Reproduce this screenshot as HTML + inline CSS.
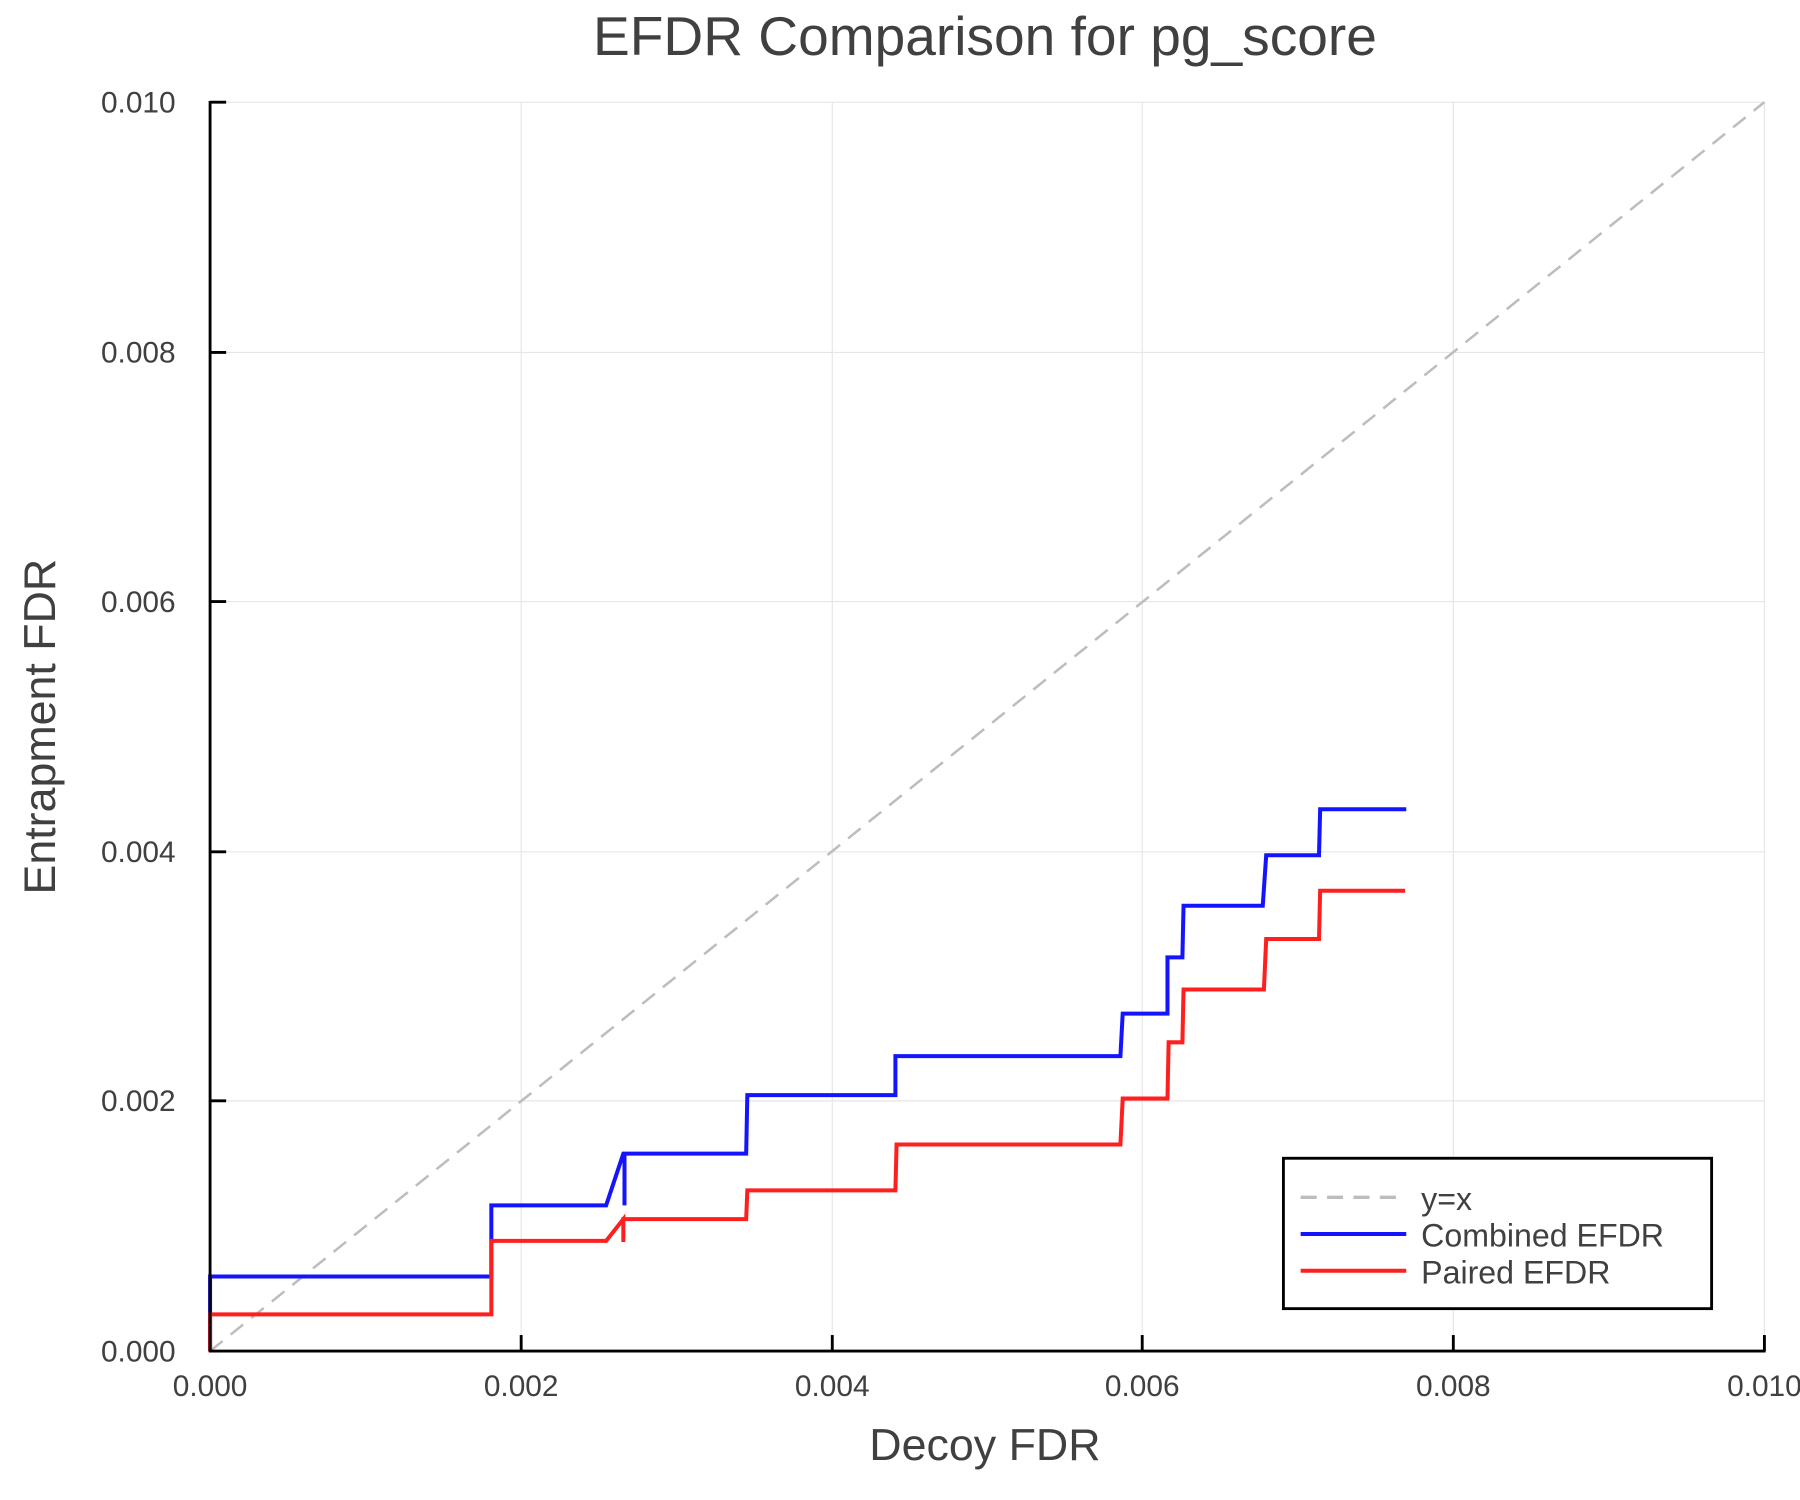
<!DOCTYPE html>
<html><head><style>html,body{margin:0;padding:0;background:#fff}svg{display:block}</style></head>
<body>
<svg width="1800" height="1500" viewBox="0 0 1568 1306.7" preserveAspectRatio="none" xmlns="http://www.w3.org/2000/svg" font-family="Liberation Sans, sans-serif">
<rect width="1568" height="1306.7" fill="#fff"/>
<g stroke="#e6e6e6" stroke-width="1">
<line x1="454" y1="89" x2="454" y2="1177"/><line x1="725" y1="89" x2="725" y2="1177"/><line x1="995" y1="89" x2="995" y2="1177"/><line x1="1266" y1="89" x2="1266" y2="1177"/><line x1="1537" y1="89" x2="1537" y2="1177"/>
<line x1="183" y1="89" x2="1537" y2="89"/><line x1="183" y1="307" x2="1537" y2="307"/><line x1="183" y1="524" x2="1537" y2="524"/><line x1="183" y1="742" x2="1537" y2="742"/><line x1="183" y1="959" x2="1537" y2="959"/>
</g>
<line x1="183" y1="1177" x2="1537" y2="89" stroke="#bdbdbd" stroke-width="2.2" stroke-dasharray="14,9"/>
<polyline fill="none" stroke="#1414ff" stroke-width="3.5" points="183,1177 183,1112 428,1112 428,1050 528,1050 543,1005 544,1005 544,1050 544,1005 650,1005 651,954 780,954 780,920 976,920 978,883 1017,883 1017,834 1030,834 1031,789 1100,789 1103,745 1149,745 1150,705 1225,705"/>
<polyline fill="none" stroke="#ff1f1f" stroke-width="3.5" points="183,1177 183,1145 428,1145 428,1081 528,1081 543,1062 543,1082 543,1062 650,1062 651,1037 780,1037 781,997 976,997 978,957 1017,957 1018,908 1030,908 1031,862 1101,862 1103,818 1149,818 1150,776 1224,776"/>
<g stroke="#000" stroke-width="2.5">
<line x1="183" y1="88" x2="183" y2="1178"/><line x1="182" y1="1177" x2="1538" y2="1177"/>
<line x1="454" y1="1177" x2="454" y2="1163"/><line x1="725" y1="1177" x2="725" y2="1163"/><line x1="995" y1="1177" x2="995" y2="1163"/><line x1="1266" y1="1177" x2="1266" y2="1163"/><line x1="1537" y1="1177" x2="1537" y2="1163"/>
<line x1="183" y1="89" x2="197" y2="89"/><line x1="183" y1="307" x2="197" y2="307"/><line x1="183" y1="524" x2="197" y2="524"/><line x1="183" y1="742" x2="197" y2="742"/><line x1="183" y1="959" x2="197" y2="959"/>
</g>
<g fill="#404040" font-size="26" text-anchor="middle">
<text x="183" y="1216">0.000</text><text x="454" y="1216">0.002</text><text x="725" y="1216">0.004</text><text x="995" y="1216">0.006</text><text x="1266" y="1216">0.008</text><text x="1537" y="1216">0.010</text>
</g>
<g fill="#404040" font-size="26" text-anchor="end">
<text x="153" y="1186">0.000</text><text x="153" y="968">0.002</text><text x="153" y="751">0.004</text><text x="153" y="533">0.006</text><text x="153" y="316">0.008</text><text x="153" y="98">0.010</text>
</g>
<text x="858" y="48" text-anchor="middle" font-size="48" fill="#404040">EFDR Comparison for pg_score</text>
<text x="858" y="1272" text-anchor="middle" font-size="39" fill="#404040">Decoy FDR</text>
<text transform="translate(48,633) rotate(-90)" text-anchor="middle" font-size="39" fill="#404040">Entrapment FDR</text>
<rect x="1118" y="1009" width="373" height="131" fill="#fff" stroke="#000" stroke-width="2.5"/>
<line x1="1133" y1="1043" x2="1225" y2="1043" stroke="#bdbdbd" stroke-width="3" stroke-dasharray="14,9"/>
<line x1="1133" y1="1075" x2="1225" y2="1075" stroke="#1414ff" stroke-width="3.5"/>
<line x1="1133" y1="1107" x2="1225" y2="1107" stroke="#ff1f1f" stroke-width="3.5"/>
<g fill="#404040" font-size="28">
<text x="1238" y="1054">y=x</text><text x="1238" y="1086">Combined EFDR</text><text x="1238" y="1118">Paired EFDR</text>
</g>
</svg>
</body></html>
